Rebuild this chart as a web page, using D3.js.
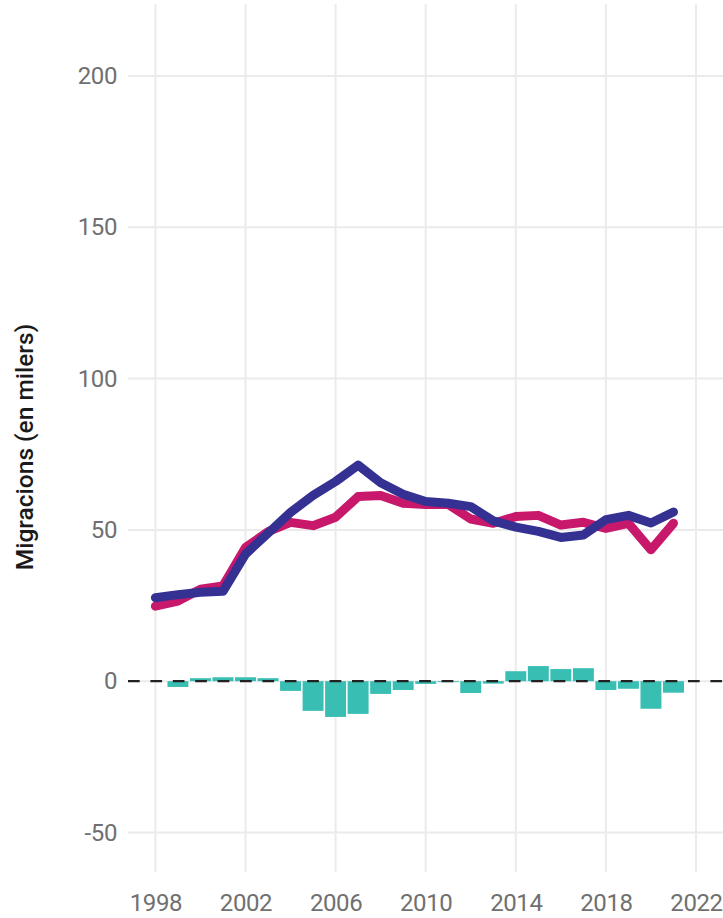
<!DOCTYPE html>
<html>
<head>
<meta charset="utf-8">
<script src="https://cdn.jsdelivr.net/npm/d3@7"></script>
<style>
  body { margin: 0; background: #fff; }
  svg { display: block; font-family: Roboto, "Noto Sans", sans-serif; }
</style>
</head>
<body>
<main></main>
<script>
const years = [1998, 1999, 2000, 2001, 2002, 2003, 2004, 2005, 2006, 2007, 2008, 2009,
  2010, 2011, 2012, 2013, 2014, 2015, 2016, 2017, 2018, 2019, 2020, 2021]
// pink series
const immigracions = [24.8, 26.5, 30.4, 31.5, 44.2, 49.4, 52.5, 51.4, 54.2, 61.0, 61.4, 58.8,
  58.4, 58.4, 53.6, 52.2, 54.4, 54.8, 51.6, 52.5, 50.5, 52.2, 43.4, 52.2]
// blue series
const emigracions = [27.6, 28.6, 29.4, 29.7, 42.0, 48.9, 55.8, 61.4, 66.0, 71.4, 65.6, 61.8,
  59.4, 58.8, 57.7, 53.0, 50.9, 49.5, 47.5, 48.3, 53.4, 54.8, 52.3, 55.9]
// teal bars (saldo)
const saldo = [null, -1.9, 1.0, 1.3, 1.3, 1.0, -3.2, -9.8, -11.8, -10.8, -4.2, -2.9,
  -0.9, -0.3, -3.9, -0.8, 3.3, 5.0, 4.0, 4.3, -2.9, -2.5, -9.1, -3.8]
const yTicks = [-50, 0, 50, 100, 150, 200]
const xTicks = [1998, 2002, 2006, 2010, 2014, 2018, 2022]

const width = 723
const height = 918
const panel = {left: 128, right: 723, top: 4, bottom: 872}

const x = d3.scaleLinear().domain([1998, 2022]).range([155.4, 696])
const y = d3.scaleLinear().domain([0, 200]).range([681.2, 76])

const svg = d3.select('main').append('svg')
  .attr('width', width)
  .attr('height', height)

// grid
svg.append('g')
  .selectAll('line')
  .data(yTicks)
  .enter().append('line')
    .attr('x1', panel.left)
    .attr('x2', panel.right)
    .attr('y1', d => y(d))
    .attr('y2', d => y(d))
    .attr('stroke', '#ebebeb')
    .attr('stroke-width', 2)

svg.append('g')
  .selectAll('line')
  .data(xTicks)
  .enter().append('line')
    .attr('x1', d => x(d))
    .attr('x2', d => x(d))
    .attr('y1', panel.top)
    .attr('y2', panel.bottom)
    .attr('stroke', '#ebebeb')
    .attr('stroke-width', 2)

// axis labels
const yAxis = svg.append('g')
  .attr('transform', `translate(${panel.left - 11},0)`)
  .call(d3.axisLeft(y).tickValues(yTicks).tickFormat(d => String(d)).tickSize(0).tickPadding(0))
yAxis.select('.domain').remove()
yAxis.selectAll('text')
  .attr('font-size', 24)
  .attr('font-family', 'Roboto, sans-serif')
  .attr('letter-spacing', -0.4)
  .attr('fill', '#707070')

const xAxis = svg.append('g')
  .attr('transform', `translate(0,${panel.bottom})`)
  .call(d3.axisBottom(x).tickValues(xTicks).tickFormat(d => String(d)).tickSize(0).tickPadding(22))
xAxis.select('.domain').remove()
xAxis.selectAll('text')
  .attr('font-size', 24)
  .attr('font-family', 'Roboto, sans-serif')
  .attr('letter-spacing', -0.4)
  .attr('fill', '#707070')

svg.append('text')
  .attr('transform', `translate(33,${447}) rotate(-90)`)
  .attr('text-anchor', 'middle')
  .attr('font-size', 24.5)
  .attr('font-weight', 500)
  .attr('fill', '#1a1a1a')
  .text('Migracions (en milers)')

// bars
const bw = (x(1999) - x(1998)) * 0.93
svg.append('g')
  .selectAll('rect')
  .data(years.map((d, i) => ({year: d, value: saldo[i]})).filter(d => d.value !== null))
  .enter().append('rect')
    .attr('x', d => x(d.year) - bw / 2)
    .attr('width', bw)
    .attr('y', d => y(Math.max(0, d.value)))
    .attr('height', d => Math.abs(y(d.value) - y(0)))
    .attr('fill', '#38beb2')

// zero reference line
svg.append('line')
  .attr('x1', panel.left)
  .attr('x2', panel.right)
  .attr('y1', y(0))
  .attr('y2', y(0))
  .attr('stroke', '#222')
  .attr('stroke-width', 2.3)
  .attr('stroke-dasharray', '11.7,10.7')

const line = d3.line()
  .x(d => x(d[0]))
  .y(d => y(d[1]))

svg.append('path')
  .datum(years.map((d, i) => [d, immigracions[i]]))
  .attr('d', line)
  .attr('fill', 'none')
  .attr('stroke', '#c8186c')
  .attr('stroke-width', 9)
  .attr('stroke-linejoin', 'round')
  .attr('stroke-linecap', 'round')

svg.append('path')
  .datum(years.map((d, i) => [d, emigracions[i]]))
  .attr('d', line)
  .attr('fill', 'none')
  .attr('stroke', '#353193')
  .attr('stroke-width', 9)
  .attr('stroke-linejoin', 'round')
  .attr('stroke-linecap', 'round')
</script>
</body>
</html>
